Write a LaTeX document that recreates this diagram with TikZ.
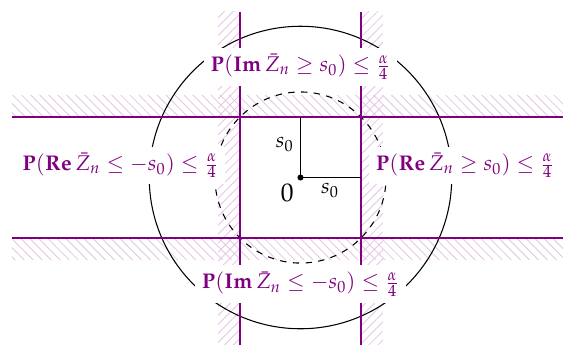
\documentclass[tikz,border=0pt]{standalone}
\usepackage{mathpazo}
\usetikzlibrary{patterns.meta}
\definecolor{myp}{RGB}{128,0,128}
\begin{document}
\begin{tikzpicture}[
  bnd/.style={myp, line width=1pt},
  hatchA/.style={pattern={Lines[angle=45,distance=3pt,line width=0.4pt]}, pattern color=myp!22},
  hatchB/.style={pattern={Lines[angle=-45,distance=3pt,line width=0.4pt]}, pattern color=myp!22},
  lab/.style={fill=white, text=myp, inner sep=3pt},
  seg/.style={black, line width=0.5pt}]
\useasboundingbox (-4.967,-2.752) rectangle (4.339,2.934);
\clip (-4.967,-2.752) rectangle (4.339,2.934);
% hatched strips
\fill[hatchA] (-1.36,-2.8) rectangle (-1,2.736);
\fill[hatchA] (1,-2.8) rectangle (1.36,2.736);
\fill[hatchB] (-4.77,1) rectangle (4.4,1.36);
\fill[hatchB] (-4.77,-1) rectangle (4.4,-1.36);
% circles
\coordinate (O) at (0,0);
\draw[seg] (O) circle (2.5);
\draw[seg, dashed] (O) circle ({sqrt(2)});
% boundary lines
\coordinate (vlT) at (-1,2.736);
\coordinate (vlB) at (-1,-2.8);
\coordinate (vrT) at (1,2.736);
\coordinate (vrB) at (1,-2.8);
\coordinate (htL) at (-4.77,1);
\coordinate (htR) at (4.4,1);
\coordinate (hbL) at (-4.77,-1);
\coordinate (hbR) at (4.4,-1);
\draw[bnd] (vlT) -- (vlB);
\draw[bnd] (vrT) -- (vrB);
\draw[bnd] (htL) -- (htR);
\draw[bnd] (hbL) -- (hbR);
% s0 segments
\coordinate (up) at (0,1);
\coordinate (rt) at (1,0);
\draw[seg] (O) -- (up);
\draw[seg] (O) -- (rt);
\fill (O) circle (0.05);
\node (s0a) at (-0.26,0.54) {$s_0$};
\node (s0b) at (0.49,-0.22) {$s_0$};
\node (zero) at (-0.22,-0.26) {\large$0$};
% labels
\node[lab] (ltop) at (0,1.83) {$\mathbf{P}(\mathbf{Im}\,\bar{Z}_n \ge s_0) \le \frac{\alpha}{4}$};
\node[lab] (lbot) at (0,-1.76) {$\mathbf{P}(\mathbf{Im}\,\bar{Z}_n \le -s_0) \le \frac{\alpha}{4}$};
\node[lab] (lleft) at (-2.975,0.2) {$\mathbf{P}(\mathbf{Re}\,\bar{Z}_n \le -s_0) \le \frac{\alpha}{4}$};
\node[lab] (lright) at (2.72,0.2) {$\mathbf{P}(\mathbf{Re}\,\bar{Z}_n \ge s_0) \le \frac{\alpha}{4}$};
\end{tikzpicture}
\end{document}
